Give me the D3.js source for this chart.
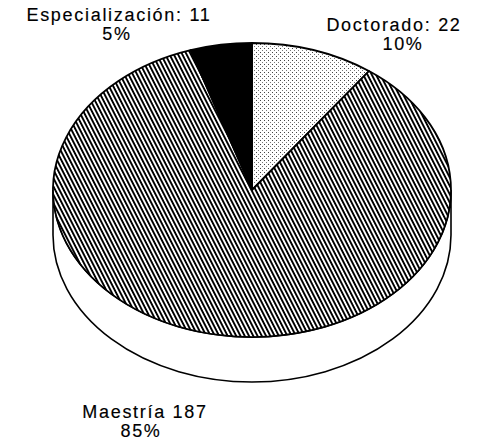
<!DOCTYPE html>
<html>
<head>
<meta charset="utf-8">
<script src="https://cdn.jsdelivr.net/npm/d3@7"></script>
<style>
  html, body { margin: 0; padding: 0; background: #fff; }
  text { font-family: "Liberation Sans", Arial, sans-serif; font-size: 18px; fill: #000; stroke: #000; stroke-width: 0.15px; }
</style>
</head>
<body>
<svg id="vis" width="478" height="446"></svg>
<script>
const categories = ["Doctorado", "Maestría", "Especialización"];
const counts = [22, 187, 11];
const labelLines = [
  ["Doctorado: 22", "10%"],
  ["Maestría 187", "85%"],
  ["Especialización: 11", "5%"]
];
const fills = ["url(#dots)", "url(#hatch)", "#000"];

const cx = 252, cy = 190, rx = 199, ry = 147, depth = 45;

const svg = d3.select("svg#vis");
const defs = svg.append("defs");

// stipple for Doctorado
let dots = defs.append("pattern").attr("id", "dots")
  .attr("patternUnits", "userSpaceOnUse").attr("width", 4).attr("height", 4);
dots.append("rect").attr("width", 4).attr("height", 4).attr("fill", "#fff");
dots.append("rect").attr("x", 0).attr("y", 0).attr("width", 1).attr("height", 1).attr("fill", "#444");
dots.append("rect").attr("x", 2).attr("y", 2).attr("width", 1).attr("height", 1).attr("fill", "#777");

// diagonal hatch for Maestría
let hatch = defs.append("pattern").attr("id", "hatch")
  .attr("patternUnits", "userSpaceOnUse").attr("width", 3.8).attr("height", 10)
  .attr("patternTransform", "rotate(-27)");
hatch.append("rect").attr("width", 3.8).attr("height", 10).attr("fill", "#fff");
hatch.append("rect").attr("width", 1.9).attr("height", 10).attr("fill", "#000");

const pie = d3.pie().sort(null).value(d => d);
const arcs = pie(counts);

// point on the top ellipse, angle clockwise from 12 o'clock
function pt(a, dy = 0) {
  return [cx + rx * Math.sin(a), cy - ry * Math.cos(a) + dy];
}

function slicePath(d) {
  const p0 = pt(d.startAngle), p1 = pt(d.endAngle);
  const large = (d.endAngle - d.startAngle) > Math.PI ? 1 : 0;
  return `M${cx},${cy}L${p0[0]},${p0[1]}A${rx},${ry} 0 ${large} 1 ${p1[0]},${p1[1]}Z`;
}

// side wall (front half only)
svg.append("path")
  .attr("d", `M${cx - rx},${cy}L${cx - rx},${cy + depth}` +
    `A${rx},${ry} 0 0 0 ${cx + rx},${cy + depth}L${cx + rx},${cy}` +
    `A${rx},${ry} 0 0 1 ${cx - rx},${cy}Z`)
  .attr("fill", "#fff")
  .attr("stroke", "#000")
  .attr("stroke-width", 1.6);

svg.selectAll("path.slice")
  .data(arcs)
  .enter()
  .append("path")
  .classed("slice", true)
  .attr("d", slicePath)
  .attr("fill", (d, i) => fills[i])
  .attr("stroke", "#000")
  .attr("stroke-width", 1.8)
  .attr("stroke-linejoin", "round");

// labels
const labelPos = [[394, 31], [145, 418], [119, 21]];
const lineShift = [[0, 9], [0, -4], [0, -2]];

labelLines.forEach((lines, i) => {
  let g = svg.append("g");
  lines.forEach((t, j) => {
    g.append("text")
      .attr("x", labelPos[i][0] + lineShift[i][j])
      .attr("y", labelPos[i][1] + j * 18.5)
      .attr("text-anchor", "middle")
      .style("letter-spacing", "1.7px")
      .text(t);
  });
});
</script>
</body>
</html>
